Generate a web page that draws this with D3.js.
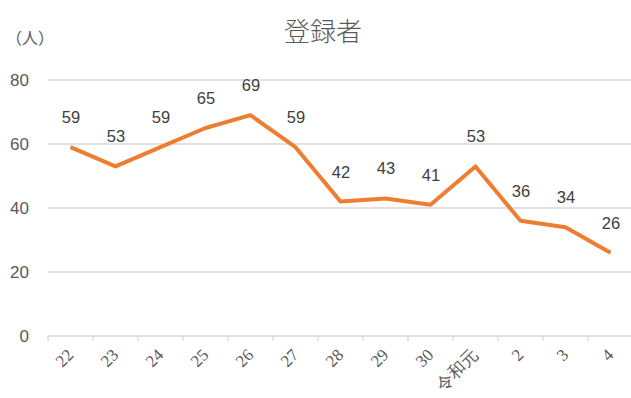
<!DOCTYPE html>
<html><head><meta charset="utf-8">
<script src="https://cdn.jsdelivr.net/npm/d3@7"></script>
<style>body{margin:0;background:#fff}</style>
</head><body>
<script>
const categories = ["22","23","24","25","26","27","28","29","30","令和元","2","3","4"];
const values = [59,53,59,65,69,59,42,43,41,53,36,34,26];
const yTicks = [0,20,40,60,80];
const title = "登録者";
const unitLabel = "（人）";

const W = 631, H = 398;
const svg = d3.select("body").append("svg").attr("width", W).attr("height", H);
const x = d3.scaleBand().domain(categories).range([48, 633]);
const y = d3.scaleLinear().domain([0, 80]).range([336, 80]);

// gridlines
svg.append("g").selectAll("line").data(yTicks).join("line")
  .attr("x1", 48).attr("x2", W).attr("y1", d => y(d)).attr("y2", d => y(d))
  .attr("stroke", "#d9d9d9").attr("stroke-width", 1.3);

// y labels
svg.append("g").selectAll("text").data(yTicks).join("text")
  .attr("x", 29).attr("y", d => y(d) + 6).attr("text-anchor", "end")
  .attr("font-family", "Liberation Sans, Arial, sans-serif").attr("font-size", 17)
  .attr("fill", "#595959").text(d => d);

// x axis ticks
const tickPos = categories.map(c => x(c)).concat([x(categories[categories.length-1]) + x.bandwidth()]);
svg.append("g").selectAll("line").data(tickPos).join("line")
  .attr("x1", d => d).attr("x2", d => d).attr("y1", 336).attr("y2", 341)
  .attr("stroke", "#d9d9d9").attr("stroke-width", 1.3);

// x labels
svg.append("g").selectAll("text").data(categories).join("text")
  .attr("transform", d => `translate(${x(d) + x.bandwidth()/2 + 4},${356}) rotate(-45)`)
  .attr("text-anchor", "end")
  .attr("font-family", "Liberation Serif, serif").attr("font-size", 17)
  .attr("fill", "#595959").text(d => d);

// line
const line = d3.line().x((d,i) => x(categories[i]) + x.bandwidth()/2).y(d => y(d));
svg.append("path").datum(values).attr("d", line)
  .attr("fill", "none").attr("stroke", "#ED7D31").attr("stroke-width", 4)
  .attr("stroke-linejoin", "round");

// data labels
svg.append("g").selectAll("text").data(values).join("text")
  .attr("x", (d,i) => x(categories[i]) + x.bandwidth()/2 + 0.5)
  .attr("y", d => y(d) - 24)
  .attr("text-anchor", "middle")
  .attr("font-family", "Liberation Sans, Arial, sans-serif").attr("font-size", 16.5)
  .attr("fill", "#404040").text(d => d);

// title
svg.append("text").attr("x", 323).attr("y", 41).attr("text-anchor", "middle")
  .attr("font-family", "Noto Sans CJK JP, sans-serif").attr("font-size", 26)
  .attr("font-weight", 300)
  .attr("fill", "#595959").text(title);

svg.append("text").attr("x", 6).attr("y", 44)
  .attr("font-family", "Noto Sans CJK JP, sans-serif").attr("font-size", 16)
  .attr("fill", "#595959").text(unitLabel);
</script>
</body></html>
